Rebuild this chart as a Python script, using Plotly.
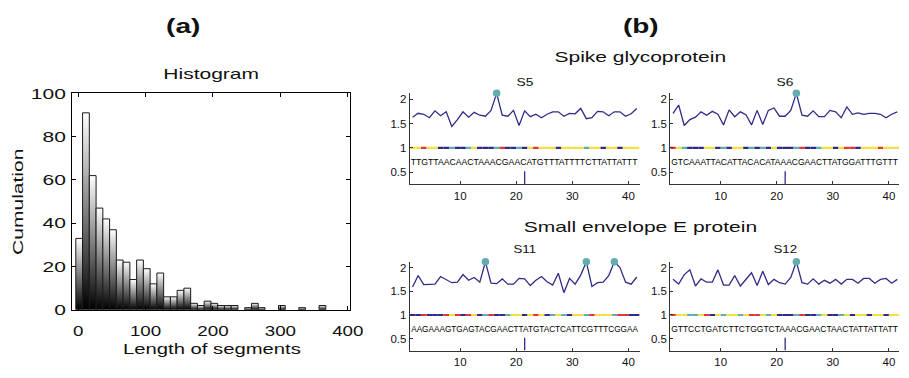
import json
import plotly.graph_objects as go

W, H = 909, 378

# ---------------- (a) histogram of segment lengths ----------------
bin_start = -3.4
bin_width = 10.02
counts = [33, 91, 62, 47, 42, 37, 23, 22, 14, 23, 19, 12, 17, 6, 6, 9, 10, 3,
          2, 4, 3, 2, 2, 2, 0, 1, 3, 1, 0, 0, 2, 0, 0, 1, 0, 0, 2]
hist_xticks = [0, 100, 200, 300, 400]
hist_yticks = [0, 20, 40, 60, 80, 100]

# ---------------- (b) profiles along four 41-nt segments ----------------
seq_s5 = "TTGTTAACAACTAAACGAACATGTTTATTTTCTTATTATTT"
seq_s6 = "GTCAAATTACATTACACATAAACGAACTTATGGATTTGTTT"
seq_s11 = "AAGAAAGTGAGTACGAACTTATGTACTCATTCGTTTCGGAA"
seq_s12 = "GTTCCTGATCTTCTGGTCTAAACGAACTAACTATTATTATT"

prof_s5 = [1.63, 1.71, 1.69, 1.62, 1.76, 1.66, 1.74, 1.44, 1.58, 1.74,
           1.63, 1.73, 1.67, 1.65, 1.77, 2.12, 1.67, 1.65, 1.77, 1.46,
           1.76, 1.64, 1.69, 1.62, 1.69, 1.74, 1.74, 1.65, 1.71, 1.70,
           1.81, 1.60, 1.62, 1.75, 1.74, 1.66, 1.74, 1.74, 1.65, 1.70, 1.81]
prof_s6 = [1.71, 1.88, 1.46, 1.58, 1.63, 1.74, 1.67, 1.75, 1.69, 1.47,
           1.78, 1.64, 1.74, 1.68, 1.47, 1.77, 1.48, 1.77, 1.82, 1.65,
           1.65, 1.77, 2.12, 1.67, 1.65, 1.76, 1.64, 1.64, 1.77, 1.74,
           1.62, 1.84, 1.69, 1.72, 1.69, 1.71, 1.71, 1.69, 1.62, 1.69, 1.74]
prof_s11 = [1.59, 1.83, 1.64, 1.65, 1.65, 1.81, 1.74, 1.68, 1.69, 1.85,
            1.73, 1.79, 1.69, 2.12, 1.67, 1.66, 1.76, 1.65, 1.65, 1.77,
            1.76, 1.62, 1.73, 1.81, 1.70, 1.63, 1.88, 1.47, 1.77, 1.65,
            1.84, 2.12, 1.60, 1.68, 1.69, 1.83, 2.12, 2.00, 1.69, 1.65, 1.80]
prof_s12 = [1.75, 1.65, 1.85, 1.95, 1.61, 1.76, 1.69, 1.69, 1.95, 1.63,
            1.63, 1.83, 1.61, 1.75, 1.89, 1.62, 1.92, 1.64, 1.75, 1.68,
            1.65, 1.79, 2.12, 1.68, 1.65, 1.76, 1.65, 1.73, 1.67, 1.75,
            1.65, 1.75, 1.75, 1.67, 1.77, 1.77, 1.67, 1.75, 1.77, 1.67, 1.75]

# nucleotide numbers carrying a marked peak
peaks_s5 = [16]
peaks_s6 = [23]
peaks_s11 = [14, 32, 37]
peaks_s12 = [23]

center_nt = 21             # middle nucleotide of each segment
base_level = 1.0           # level of the coloured nucleotide strip
seq_level = 0.71           # level of the printed sequence
mark_top = 0.52            # height of the centre marker
prof_xticks = [10, 20, 30, 40]
prof_yticks = [0.5, 1, 1.5, 2]
prof_yticktext = ["0.5", "1", "1.5", "2"]

NAVY = "#2f2b88"
TEAL = "#62adad"
base_colors = {"A": NAVY, "C": TEAL, "G": "#e2353b", "T": "#f2e03c"}

FONT = "Liberation Sans, Arial, sans-serif"
TXT = "#111111"


def cell_mid(nt):
    # nucleotide n occupies the cell [n, n + 1] on the position axis
    return nt + 0.5


fig = go.Figure()

# histogram bars: each bar shaded black (bottom) to white (top)
for k, c in enumerate(counts):
    if c <= 0:
        continue
    left = bin_start + k * bin_width
    right = left + bin_width
    fig.add_trace(go.Scatter(
        x=[left, left, right, right, left], y=[0, c, c, 0, 0],
        mode="lines", fill="toself",
        fillgradient=dict(type="vertical",
                          colorscale=[[0, "#000000"], [1, "#ffffff"]]),
        line=dict(color="#1a1a1a", width=1),
        xaxis="x", yaxis="y", showlegend=False, hoverinfo="skip"))

panels = [
    ("x2", "y2", seq_s5, prof_s5, peaks_s5),
    ("x3", "y3", seq_s6, prof_s6, peaks_s6),
    ("x4", "y4", seq_s11, prof_s11, peaks_s11),
    ("x5", "y5", seq_s12, prof_s12, peaks_s12),
]

for xa, ya, seq, prof, peaks in panels:
    pos = [cell_mid(n) for n in range(1, len(prof) + 1)]
    # nucleotide strip, one segment per base
    for base, col in base_colors.items():
        xs, ys = [], []
        for n, b in enumerate(seq, start=1):
            if b == base:
                xs += [n, n + 1, None]
                ys += [base_level, base_level, None]
        fig.add_trace(go.Scatter(x=xs, y=ys, mode="lines",
                                 line=dict(color=col, width=2.2),
                                 xaxis=xa, yaxis=ya, showlegend=False,
                                 hoverinfo="skip", cliponaxis=False))
    # profile curve
    fig.add_trace(go.Scatter(x=pos, y=prof, mode="lines",
                             line=dict(color=NAVY, width=1.3),
                             xaxis=xa, yaxis=ya, showlegend=False,
                             hoverinfo="skip", cliponaxis=False))
    # peak markers
    fig.add_trace(go.Scatter(x=[cell_mid(p) for p in peaks],
                             y=[prof[p - 1] for p in peaks],
                             mode="markers",
                             marker=dict(color=TEAL, size=7.5, line=dict(width=0)),
                             xaxis=xa, yaxis=ya, showlegend=False,
                             hoverinfo="skip", cliponaxis=False))
    # centre marker
    fig.add_trace(go.Scatter(x=[cell_mid(center_nt)] * 2, y=[0.25, mark_top],
                             mode="lines", line=dict(color=NAVY, width=1.3),
                             xaxis=xa, yaxis=ya, showlegend=False,
                             hoverinfo="skip"))

# ---------------- layout ----------------
def px_x(p):
    return p / W


def px_y(p):
    return 1 - p / H


hist_axis = dict(showline=True, linecolor="#000", linewidth=1, mirror="ticks",
                 ticks="inside", ticklen=4, tickcolor="#000",
                 showgrid=False, zeroline=False,
                 tickfont=dict(family=FONT, size=15, color=TXT))

prof_x = dict(showline=True, linecolor="#333", linewidth=1, ticks="inside",
              ticklen=3, tickcolor="#333", showgrid=False, zeroline=False,
              tickvals=prof_xticks, ticklabelstandoff=1,
              tickfont=dict(family=FONT, size=11.5, color=TXT))
prof_y = dict(showline=True, linecolor="#333", linewidth=1, ticks="inside",
              ticklen=3, tickcolor="#333", showgrid=False, zeroline=False,
              tickvals=prof_yticks, ticktext=prof_yticktext,
              range=[0.25, 2.12],
              tickfont=dict(family=FONT, size=11.5, color=TXT))

left_dom = [px_x(414.3), px_x(646.7)]
right_dom = [px_x(677.7), 1.0]
px_per_unit = (646.7 - 414.3) / 41.0
left_range = [1, 42]
right_range = [1, 1 + (W - 677.7) / px_per_unit]
top_dom = [px_y(183.7), px_y(88.3)]
bot_dom = [px_y(357.7), px_y(264.7)]

fig.update_layout(
    width=W, height=H, margin=dict(l=0, r=0, t=0, b=0),
    paper_bgcolor="white", plot_bgcolor="white",
    xaxis=dict(hist_axis, domain=[px_x(72.7), px_x(354)], range=[-9.2, 403.4],
               tickvals=hist_xticks, anchor="y", ticklabelstandoff=7),
    yaxis=dict(hist_axis, domain=[px_y(315), px_y(88.3)], range=[0, 100],
               tickvals=hist_yticks, anchor="x", ticklabelstandoff=2),
    xaxis2=dict(prof_x, domain=left_dom, range=left_range, anchor="y2"),
    yaxis2=dict(prof_y, domain=top_dom, anchor="x2"),
    xaxis3=dict(prof_x, domain=right_dom, range=right_range, anchor="y3"),
    yaxis3=dict(prof_y, domain=top_dom, anchor="x3"),
    xaxis4=dict(prof_x, domain=left_dom, range=left_range, anchor="y4"),
    yaxis4=dict(prof_y, domain=bot_dom, anchor="x4"),
    xaxis5=dict(prof_x, domain=right_dom, range=right_range, anchor="y5"),
    yaxis5=dict(prof_y, domain=bot_dom, anchor="x5"),
)

annotations = []
stretch = []   # horizontal widening of each annotation's glyphs


def label(text, x, y, size, bold=False, angle=0, widen=1.4):
    annotations.append(dict(
        text="<b>%s</b>" % text if bold else text,
        xref="paper", yref="paper", x=px_x(x), y=px_y(y),
        xanchor="center", yanchor="middle", showarrow=False, textangle=angle,
        font=dict(family=FONT, size=size, color=TXT)))
    stretch.append(widen)


label("(a)", 185, 18, 20, bold=True)
label("(b)", 648, 18, 20, bold=True)
label("Histogram", 213, 68, 15)
label("Cumulation", 18, 202, 15, angle=-90)
label("Length of segments", 214, 355, 15, widen=1.35)
label("Spike glycoprotein", 648, 50, 15)
label("Small envelope E protein", 648, 228, 15)
label("S5", 530.5, 76, 11.5, widen=1.2)
label("S6", 794, 76, 11.5, widen=1.2)
label("S11", 530.5, 251, 11.5, widen=1.15)
label("S12", 794, 251, 11.5, widen=1.15)

# printed sequences, centred on the segment
seq_units = 40.0
for xa, ya, seq, prof, peaks in panels:
    annotations.append(dict(
        text=seq, xref=xa, yref=ya, x=(1 + len(seq) + 1) / 2, y=seq_level,
        xanchor="center", yanchor="middle", showarrow=False,
        font=dict(family=FONT, size=8.8, color="#000")))
    stretch.append(-seq_units * px_per_unit)   # negative: absolute width

fig.update_layout(annotations=annotations)

# widen the label glyphs; sequences are fitted to the width of their bases
post_js = """
var gd = document.getElementById('{plot_id}');
var ann = STRETCH;
function fit(t, f) {
  var w = t.getComputedTextLength();
  if (!w) { return; }
  var target = f < 0 ? -f : w * f;
  t.setAttribute('textLength', target);
  t.setAttribute('lengthAdjust', 'spacingAndGlyphs');
}
gd.querySelectorAll('.annotation').forEach(function (g) {
  var i = parseInt(g.getAttribute('data-index'), 10);
  var t = g.querySelector('text');
  if (t && !isNaN(i)) { fit(t, ann[i]); }
});
gd.querySelectorAll('.subplot').forEach(function (sp) {
  var hist = sp.classList.contains('xy');
  sp.querySelectorAll('.xtick text').forEach(function (t) { fit(t, hist ? 1.25 : 1.0); });
  sp.querySelectorAll('.ytick text').forEach(function (t) { fit(t, hist ? 1.4 : 1.55); });
});
""".replace("STRETCH", json.dumps([round(s, 2) for s in stretch]))

fig.write_html("out.html", config={"displayModeBar": False},
               post_script=post_js)
